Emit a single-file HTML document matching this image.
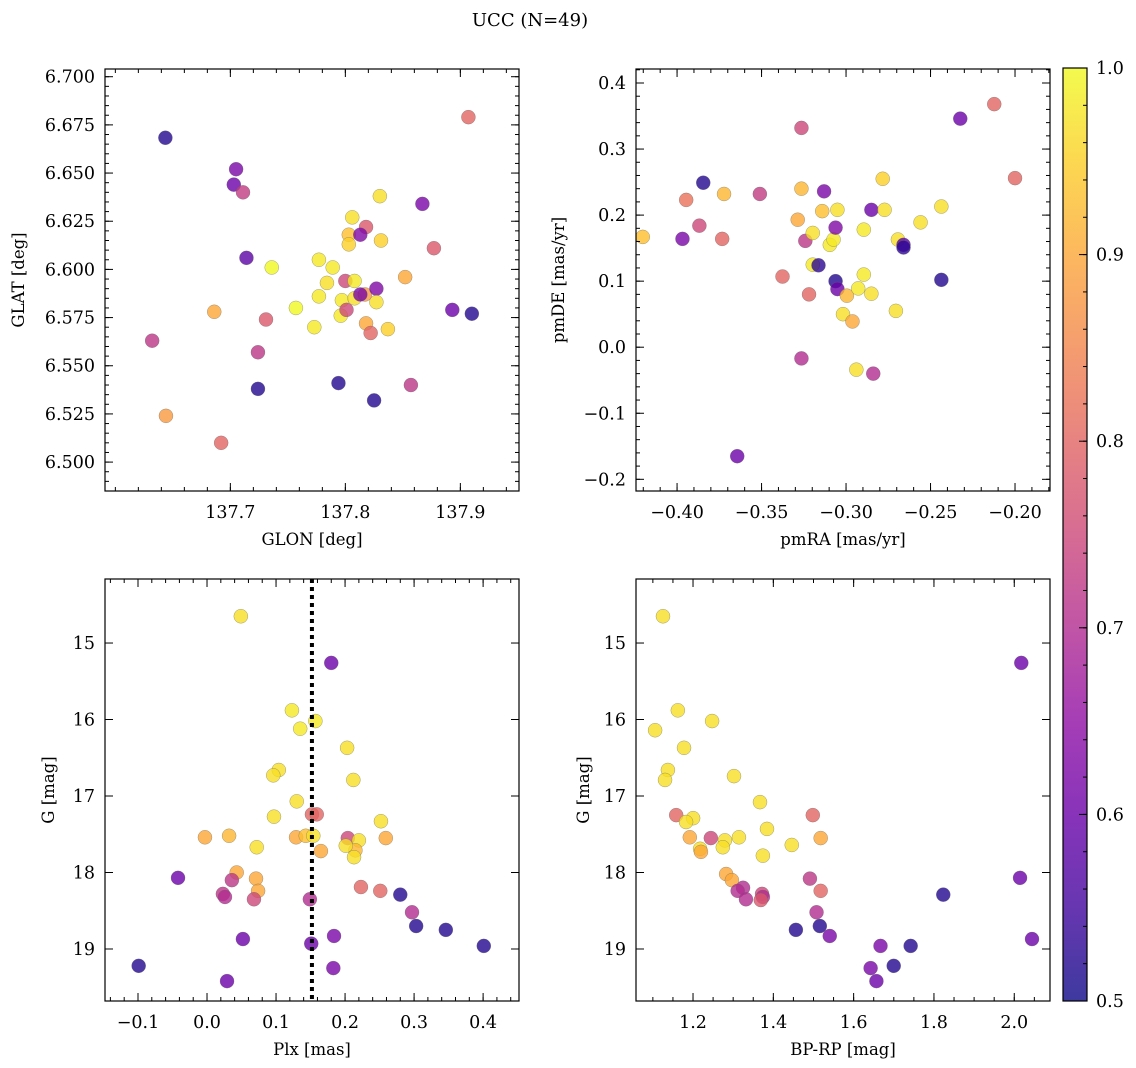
<!DOCTYPE html>
<html><head><meta charset="utf-8"><style>
body{margin:0;background:#fff;}
svg{display:block;font-family:"DejaVu Serif","Liberation Serif",serif;}
</style></head><body>
<svg id="fig" width="1136" height="1068" viewBox="0 0 1136 1068" xmlns="http://www.w3.org/2000/svg">
<defs>
<linearGradient id="plasma" x1="0" y1="1" x2="0" y2="0">
<stop offset="0" stop-color="#0d0887"/><stop offset="0.1" stop-color="#41049d"/><stop offset="0.2" stop-color="#6a00a8"/><stop offset="0.3" stop-color="#8f0da4"/><stop offset="0.4" stop-color="#b12a90"/><stop offset="0.5" stop-color="#cc4778"/><stop offset="0.6" stop-color="#e16462"/><stop offset="0.7" stop-color="#f2844b"/><stop offset="0.8" stop-color="#fca636"/><stop offset="0.9" stop-color="#fcce25"/><stop offset="1" stop-color="#f0f921"/>
</linearGradient>
</defs>
<text x="530" y="26" font-size="18" text-anchor="middle">UCC (N=49)</text>
</svg>
<script>
// ---- data ----
const tlGlon=[137.6435,137.705,137.703,137.711,137.714,137.736,137.686,137.731,137.757,137.632,137.724,137.724,137.644,137.692,137.777,137.789,137.777,137.784,137.773,137.806,137.803,137.803,137.818,137.813,137.830,137.831,137.8,137.808,137.797,137.808,137.796,137.801,137.817,137.813,137.827,137.827,137.818,137.822,137.837,137.852,137.867,137.877,137.907,137.893,137.91,137.794,137.825,137.857];
const tlGlat=[6.6683,6.652,6.644,6.640,6.606,6.601,6.578,6.574,6.580,6.563,6.557,6.538,6.524,6.510,6.605,6.601,6.586,6.593,6.570,6.627,6.618,6.613,6.622,6.618,6.638,6.615,6.594,6.594,6.584,6.585,6.576,6.579,6.587,6.587,6.590,6.583,6.572,6.567,6.569,6.596,6.634,6.611,6.679,6.579,6.577,6.541,6.532,6.540];
const tlProb=[0.52,0.62,0.6,0.73,0.58,1.0,0.9,0.78,1.0,0.72,0.72,0.52,0.88,0.8,0.98,0.98,0.98,0.97,0.98,0.97,0.93,0.95,0.78,0.63,0.97,0.95,0.75,0.98,0.98,0.97,0.98,0.75,0.88,0.62,0.63,0.97,0.9,0.8,0.95,0.9,0.62,0.78,0.8,0.6,0.52,0.52,0.52,0.72];
const trPmra=[-0.4203,-0.3946,-0.3868,-0.3968,-0.3845,-0.3722,-0.3733,-0.3644,-0.3510,-0.3376,-0.3264,-0.3264,-0.3286,-0.3241,-0.3264,-0.3219,-0.3197,-0.3197,-0.3163,-0.3141,-0.3130,-0.3096,-0.3074,-0.3062,-0.3051,-0.3062,-0.3051,-0.3018,-0.2995,-0.2962,-0.2939,-0.2928,-0.2895,-0.2895,-0.2850,-0.2850,-0.2839,-0.2783,-0.2772,-0.2705,-0.2693,-0.2660,-0.2660,-0.2559,-0.2436,-0.2436,-0.2324,-0.2123,-0.2000];
const trPmde=[0.167,0.223,0.184,0.164,0.249,0.232,0.164,-0.165,0.232,0.107,0.332,0.240,0.193,0.161,-0.017,0.080,0.173,0.125,0.124,0.206,0.236,0.155,0.163,0.181,0.208,0.100,0.088,0.050,0.078,0.039,-0.034,0.089,0.110,0.178,0.208,0.081,-0.040,0.255,0.208,0.055,0.163,0.155,0.151,0.189,0.213,0.102,0.346,0.368,0.256];
const trProb=[0.93,0.82,0.75,0.62,0.52,0.92,0.8,0.6,0.73,0.8,0.75,0.92,0.9,0.72,0.7,0.8,0.97,0.98,0.53,0.93,0.62,0.98,0.98,0.63,0.97,0.52,0.6,0.97,0.92,0.9,0.97,0.98,0.98,0.98,0.6,0.97,0.7,0.95,0.97,0.97,0.97,0.58,0.53,0.97,0.97,0.52,0.6,0.8,0.8];
const blPlx=[0.049,0.180,0.123,0.157,0.135,0.203,0.104,0.096,0.212,0.130,0.097,0.252,0.032,-0.003,0.129,0.143,0.154,0.152,0.159,0.204,0.220,0.215,0.201,0.213,0.165,0.259,0.072,0.043,-0.042,0.071,0.036,0.074,0.223,0.251,0.023,0.026,0.068,0.149,0.280,0.297,0.303,0.346,0.401,0.184,0.052,0.151,-0.099,0.183,0.029];
const blG=[14.65,15.26,15.88,16.02,16.12,16.37,16.66,16.73,16.79,17.07,17.27,17.33,17.52,17.54,17.54,17.52,17.52,17.24,17.24,17.55,17.58,17.71,17.65,17.80,17.72,17.55,17.67,18.0,18.07,18.08,18.10,18.24,18.19,18.24,18.28,18.32,18.35,18.35,18.29,18.52,18.70,18.75,18.96,18.83,18.87,18.93,19.22,19.25,19.42];
const blProb=[0.97,0.6,0.98,0.98,0.98,0.97,0.97,0.97,0.97,0.97,0.97,0.97,0.92,0.9,0.9,0.93,0.97,0.8,0.8,0.75,0.97,0.92,0.97,0.97,0.9,0.9,0.97,0.9,0.6,0.9,0.72,0.9,0.8,0.8,0.72,0.7,0.75,0.7,0.52,0.7,0.52,0.52,0.52,0.62,0.6,0.6,0.52,0.62,0.6];
const plxLine=[0.152];
const brColor=[1.1252,2.0175,1.1622,1.1056,1.1776,1.2475,1.1375,1.1303,1.302,1.3668,1.1581,1.4983,1.2002,1.1827,1.3842,1.192,1.2444,1.2794,1.3143,1.2742,1.2177,1.2197,1.3739,1.5179,1.4459,1.2825,1.2968,1.4911,1.5179,1.3246,1.3112,1.3719,1.3739,1.3318,1.3688,1.8232,1.5076,1.4562,1.5158,1.5405,1.6669,1.742,2.0144,2.0442,1.6998,1.6423,1.6567];
const brG=[14.65,15.26,15.88,16.14,16.37,16.02,16.66,16.79,16.74,17.08,17.25,17.25,17.29,17.34,17.43,17.54,17.55,17.58,17.54,17.67,17.69,17.73,17.78,17.55,17.64,18.02,18.10,18.08,18.24,18.20,18.24,18.28,18.32,18.35,18.36,18.29,18.52,18.75,18.70,18.83,18.96,18.96,18.07,18.87,19.22,19.25,19.42];
const brProb=[0.97,0.6,0.97,0.97,0.97,0.97,0.97,0.97,0.97,0.97,0.8,0.8,0.97,0.97,0.97,0.9,0.75,0.97,0.97,0.97,0.97,0.9,0.97,0.9,0.97,0.9,0.9,0.72,0.8,0.7,0.7,0.75,0.7,0.7,0.78,0.52,0.7,0.52,0.52,0.62,0.62,0.52,0.6,0.6,0.52,0.62,0.6];
const tlXTicks=[137.7,137.8,137.9], tlYTicks=[6.5,6.525,6.55,6.575,6.6,6.625,6.65,6.675,6.7];
const trXTicks=[-0.4,-0.35,-0.3,-0.25,-0.2], trYTicks=[-0.2,-0.1,0,0.1,0.2,0.3,0.4];
const blXTicks=[-0.1,0,0.1,0.2,0.3,0.4], gTicks=[15,16,17,18,19];
const brXTicks=[1.2,1.4,1.6,1.8,2.0], cbTicks=[0.5,0.6,0.7,0.8,0.9,1.0];

const NS='http://www.w3.org/2000/svg';
const svg=document.getElementById('fig');
function mk(tag,attrs,parent){const e=document.createElementNS(NS,tag);for(const k in attrs)e.setAttribute(k,attrs[k]);(parent||svg).appendChild(e);return e;}
const stops=['#0d0887','#41049d','#6a00a8','#8f0da4','#b12a90','#cc4778','#e16462','#f2844b','#fca636','#fcce25','#f0f921'];
function hex(h){return [1,3,5].map(i=>parseInt(h.substr(i,2),16));}
function plasma(p){let t=Math.max(0,Math.min(1,(p-0.5)/0.5))*10;let i=Math.min(9,Math.floor(t)),f=t-i;const a=hex(stops[i]),b=hex(stops[i+1]);return 'rgb('+a.map((v,k)=>Math.round(v+(b[k]-v)*f)).join(',')+')';}
function fmt(v,d){const s=v.toFixed(d);return s.replace('-','\u2212');}

function panel(name,box,xd,yd,xt,yt,xdec,ydec,xminor,yminor,xlab,ylab,yoff,xs,ys,ps,vline){
  const [L,T,R,B]=box;
  const g=mk('g',{});
  
  
  const X=v=>L+(v-xd[0])/(xd[1]-xd[0])*(R-L);
  const Y=v=>B-(v-yd[0])/(yd[1]-yd[0])*(B-T);
  for(let i=0;i<xs.length;i++){
    const c=mk('circle',{cx:X(xs[i]),cy:Y(ys[i]),r:7,fill:plasma(ps[i]),'fill-opacity':0.8,stroke:'#666','stroke-width':0.5,'stroke-opacity':0.6},g);
    
    
  }
  if(vline){const l=mk('line',{x1:X(vline[0]),x2:X(vline[0]),y1:T,y2:B,stroke:'#000','stroke-width':4,'stroke-dasharray':'4,4'},g);
    
    }
  const fr=mk('rect',{x:L,y:T,width:R-L,height:B-T,fill:'none',stroke:'#000','stroke-width':1.2},g);
  
  
  const tk=(x1,y1,x2,y2)=>mk('line',{x1,y1,x2,y2,stroke:'#000','stroke-width':1},g);
  for(let k=Math.ceil(xd[0]/xminor-1e-9);k*xminor<=xd[1];k++){const x=X(k*xminor);tk(x,B,x,B-4);tk(x,T,x,T+4);}
  for(let k=Math.ceil(yd[0]/yminor-1e-9);k*yminor<=yd[1];k++){const y=Y(k*yminor);tk(L,y,L+4,y);tk(R,y,R-4,y);}
  xt.forEach(v=>{const x=X(v);tk(x,B,x,B-8);tk(x,T,x,T+8);
    const t=mk('text',{x:x,y:B+27,'font-size':17.5,'text-anchor':'middle'},g);t.textContent=fmt(v,xdec);
    });
  yt.forEach(v=>{const y=Y(v);tk(L,y,L+8,y);tk(R,y,R-8,y);
    const t=mk('text',{x:L-10,y:y+6,'font-size':17.5,'text-anchor':'end'},g);t.textContent=fmt(v,ydec);
    });
  const xl=mk('text',{x:(L+R)/2,y:B+54,'font-size':16.5,'text-anchor':'middle'},g);xl.textContent=xlab;
  
  const yx=L-yoff;
  const yl=mk('text',{x:yx,y:(T+B)/2,'font-size':16.5,'text-anchor':'middle',transform:`rotate(-90 ${yx} ${(T+B)/2})`},g);yl.textContent=ylab;
  
}
panel('glon-glat-panel',[105,69,519,491],[137.591,137.951],[6.485,6.704],tlXTicks,tlYTicks,1,3,0.02,0.005,'GLON [deg]','GLAT [deg]',81,tlGlon,tlGlat,tlProb);
panel('proper-motion-panel',[636,69,1050,491],[-0.4243,-0.1793],[-0.2177,0.4212],trXTicks,trYTicks,2,1,0.01,0.02,'pmRA [mas/yr]','pmDE [mas/yr]',72,trPmra,trPmde,trProb);
panel('plx-g-panel',[105,579,519,1001],[-0.1478,0.452],[19.68,14.163],blXTicks,gTicks,1,0,0.02,0.2,'Plx [mas]','G [mag]',51,blPlx,blG,blProb,plxLine);
panel('cmd-panel',[636,579,1050,1001],[1.058,2.089],[19.68,14.163],brXTicks,gTicks,1,0,0.05,0.2,'BP-RP [mag]','G [mag]',47,brColor,brG,brProb);
(function(){
  const L=1063,R=1087,T=68,B=1001;
  const g=mk('g',{});
  
  
  mk('rect',{x:L,y:T,width:R-L,height:B-T,fill:'url(#plasma)','fill-opacity':0.8},g);
  mk('rect',{x:L,y:T,width:R-L,height:B-T,fill:'none',stroke:'#000','stroke-width':1.2},g);
  const Y=v=>B-(v-0.5)/0.5*(B-T);
  for(let k=25;k<=50;k++){const y=Y(k*0.02);mk('line',{x1:R,x2:R-4,y1:y,y2:y,stroke:'#000'},g);}
  cbTicks.forEach(v=>{const y=Y(v);mk('line',{x1:R,x2:R-8,y1:y,y2:y,stroke:'#000'},g);
    const t=mk('text',{x:R+9,y:y+6,'font-size':17.5},g);t.textContent=v.toFixed(1);
    });
})();
</script>
</body></html>
